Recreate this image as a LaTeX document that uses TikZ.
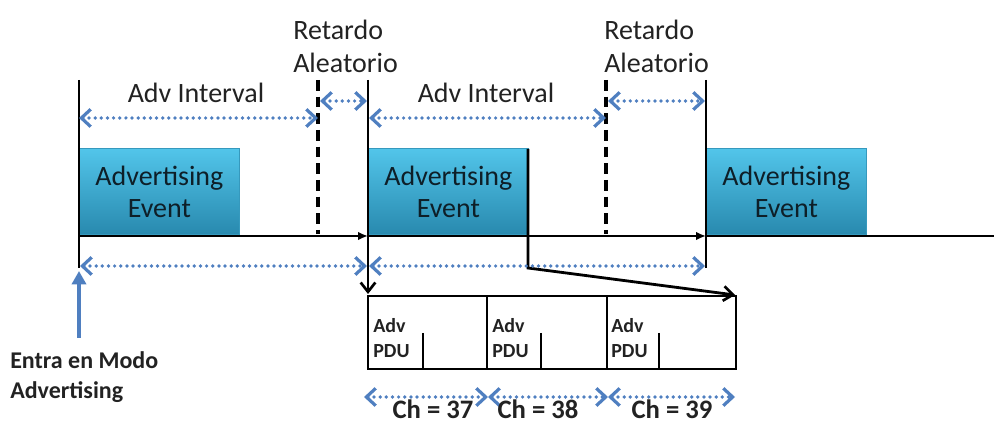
\documentclass[tikz,border=0pt]{standalone}
\usepackage{fontspec}
\setmainfont{Carlito}
\usetikzlibrary{arrows.meta}

\definecolor{evtop}{HTML}{52C5EA}
\definecolor{evbot}{HTML}{2889AE}
\definecolor{evedge}{HTML}{3699BD}
\definecolor{spanblue}{HTML}{4F7FC0}
\definecolor{ink}{HTML}{222222}
\definecolor{evink}{HTML}{0E1F28}

\tikzset{
  event/.style={draw=evedge, line width=0.6pt, top color=evtop, bottom color=evbot,
    minimum width=120pt, minimum height=64.5pt, inner sep=0pt, anchor=south west,
    align=center, text=evink, font=\fontsize{21}{24}\selectfont},
  label/.style={text=ink, inner sep=0pt, font=\fontsize{21}{24.8}\selectfont},
  boldlabel/.style={text=ink, inner sep=0pt, font=\bfseries\fontsize{18}{22.5}\selectfont},
  pdulabel/.style={text=ink, inner sep=0pt, anchor=base west, font=\bfseries\fontsize{15}{18}\selectfont},
  chlabel/.style={text=ink, inner sep=0pt, anchor=base, font=\bfseries\fontsize{20}{24}\selectfont},
  marker/.style={black, line width=2.1pt},
  delay/.style={black, line width=2.3pt, dash pattern=on 8pt off 4.5pt},
  axis/.style={black, line width=1.9pt},
  axistip/.style={-{Latex[length=7.5pt,width=6.5pt]}},
  openend/.style={black, line width=2.1pt, -{Straight Barb[length=7pt,width=11pt,line width=2pt]}},
  span/.style={spanblue, line width=2.8pt, line cap=round, dash pattern=on 0pt off 4.6pt,
    {Straight Barb[length=7pt,width=13pt,line width=2.4pt]}-{Straight Barb[length=7pt,width=13pt,line width=2.4pt]}},
  entry/.style={spanblue, line width=2.8pt, -{Triangle[length=10pt,width=10.5pt]}},
  frame/.style={black, line width=1.8pt},
}

\begin{document}
\begin{tikzpicture}[x=0.75pt, y=-0.75pt]
  \useasboundingbox (0,0) rectangle (994,423);

  % advertising events
  \node[event] (ev1) at (79,235)  {Advertising\\Event};
  \node[event] (ev2) at (368,235) {Advertising\\Event};
  \node[event] (ev3) at (706,235) {Advertising\\Event};

  % reference points
  \coordinate (m0t) at (79,80);   \coordinate (m0b) at (79,268);
  \coordinate (m1t) at (368,80);  \coordinate (m1b) at (368,294);
  \coordinate (m2t) at (706,80);  \coordinate (m2b) at (706,268);
  \coordinate (r1t) at (318,80);  \coordinate (r1b) at (318,234);
  \coordinate (r2t) at (606,80);  \coordinate (r2b) at (606,234);
  \coordinate (a0) at (79,236);   \coordinate (a1) at (368,236);
  \coordinate (a2) at (706,236);  \coordinate (aend) at (994,236);
  \coordinate (dropTop) at (528,149);
  \coordinate (dropMid) at (528,268);
  \coordinate (dropEnd) at (735,295);

  % time axis
  \draw[axis, axistip] (a0) -- (a1);
  \draw[axis, axistip] (a1) -- (a2);
  \draw[axis] (a2) -- (aend);

  % event boundaries and random delays
  \draw[marker] (m0t) -- (m0b);
  \draw[marker] (m2t) -- (m2b);
  \draw[openend] (m1t) -- (m1b);
  \draw[delay] (r1t) -- (r1b);
  \draw[delay] (r2t) -- (r2b);

  % zoom of the second event
  \draw[openend] (dropTop) -- (dropMid) -- (dropEnd);

  % PDU frame
  \coordinate (f0) at (368,296); \coordinate (f3) at (736,369);
  \draw[frame] (f0) rectangle (f3);
  \coordinate (c1t) at (487,296); \coordinate (c1b) at (487,369);
  \coordinate (c2t) at (607,296); \coordinate (c2b) at (607,369);
  \draw[frame] (c1t) -- (c1b);
  \draw[frame] (c2t) -- (c2b);
  \coordinate (k1t) at (423,333); \coordinate (k1b) at (423,369);
  \coordinate (k2t) at (541,333); \coordinate (k2b) at (541,369);
  \coordinate (k3t) at (659,333); \coordinate (k3b) at (659,369);
  \draw[frame] (k1t) -- (k1b);
  \draw[frame] (k2t) -- (k2b);
  \draw[frame] (k3t) -- (k3b);

  \node[pdulabel] (adv1) at (373,333) {Adv};
  \node[pdulabel] (pdu1) at (373,357) {PDU};
  \node[pdulabel] (adv2) at (492,333) {Adv};
  \node[pdulabel] (pdu2) at (492,357) {PDU};
  \node[pdulabel] (adv3) at (611,333) {Adv};
  \node[pdulabel] (pdu3) at (611,357) {PDU};

  % interval spans
  \coordinate (s0) at (79,118);   \coordinate (s1) at (318,118);
  \coordinate (s2) at (320,101);  \coordinate (s3) at (367,101);
  \coordinate (s4) at (369,118);  \coordinate (s5) at (606,118);
  \coordinate (s6) at (608,101);  \coordinate (s7) at (705,101);
  \draw[span] (s0) -- (s1);
  \draw[span] (s2) -- (s3);
  \draw[span] (s4) -- (s5);
  \draw[span] (s6) -- (s7);

  \coordinate (b0) at (80,266);  \coordinate (b1) at (367,266);
  \coordinate (b2) at (369,266); \coordinate (b3) at (705,266);
  \draw[span] (b0) -- (b1);
  \draw[span] (b2) -- (b3);

  \coordinate (h0) at (364,397); \coordinate (h1) at (488,397);
  \coordinate (h2) at (488,397); \coordinate (h3) at (608,397);
  \coordinate (h4) at (608,397); \coordinate (h5) at (735,397);
  \draw[span] (h0) -- (h1);
  \draw[span] (h2) -- (h3);
  \draw[span] (h4) -- (h5);

  % texts (multi-line nodes sit on the baseline of their last line)
  \node[label, anchor=base] (ai1) at (196,103) {Adv Interval};
  \node[label, anchor=base] (ai2) at (486,103) {Adv Interval};
  \node[label, anchor=base west, align=left] (rd1) at (293,73) {Retardo\\Aleatorio};
  \node[label, anchor=base west, align=left] (rd2) at (604,73) {Retardo\\Aleatorio};

  \node[chlabel] (ch37) at (433,418) {Ch = 37};
  \node[chlabel] (ch38) at (538,418) {Ch = 38};
  \node[chlabel] (ch39) at (672,418) {Ch = 39};

  % start of advertising
  \coordinate (e0) at (79,338); \coordinate (e1) at (79,271);
  \draw[entry] (e0) -- (e1);
  \node[boldlabel, anchor=base west, align=left] (start) at (10,398) {Entra en Modo\\Advertising};
\end{tikzpicture}
\end{document}
